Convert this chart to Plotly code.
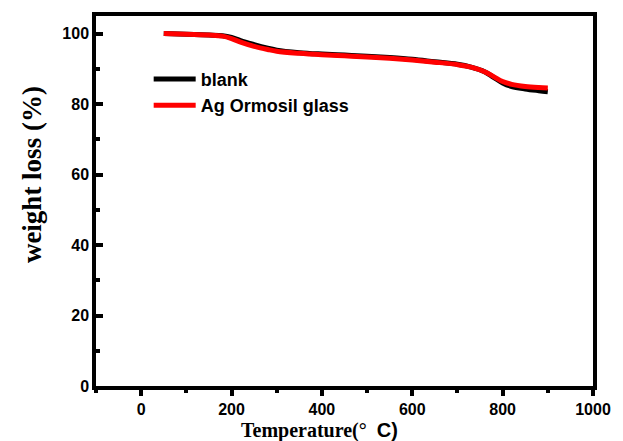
import plotly.graph_objects as go

# Thermogravimetric curves (weight % vs temperature)
temperature = [50, 100, 150, 180, 200, 220, 250, 280, 300, 350, 400, 450, 500,
               550, 600, 650, 700, 730, 760, 780, 800, 820, 850, 880, 900]
blank = [100.0, 99.8, 99.6, 99.4, 98.9, 98.0, 96.9, 95.9, 95.3, 94.6, 94.2, 93.9,
         93.6, 93.2, 92.7, 92.0, 91.3, 90.5, 89.2, 87.6, 86.0, 85.0, 84.3, 83.8, 83.5]
ag_ormosil = [100.0, 99.8, 99.6, 99.3, 98.6, 97.6, 96.4, 95.5, 95.0, 94.4, 94.0, 93.7,
              93.4, 93.0, 92.5, 91.9, 91.2, 90.5, 89.2, 87.8, 86.4, 85.6, 85.0, 84.7, 84.6]

x_ticks = [0, 200, 400, 600, 800, 1000]
y_ticks = [0, 20, 40, 60, 80, 100]

sans = "Liberation Sans, Arial, sans-serif"
serif = "Liberation Serif, Times New Roman, serif"

fig = go.Figure()
fig.add_trace(go.Scatter(x=temperature, y=blank, name="blank", mode="lines",
                         line=dict(color="black", width=5, shape="spline")))
fig.add_trace(go.Scatter(x=temperature, y=ag_ormosil, name="Ag Ormosil glass", mode="lines",
                         line=dict(color="#ff0000", width=5, shape="spline")))

axis_common = dict(
    showline=True, linecolor="black", linewidth=3.5, mirror=True,
    tickwidth=3.5, tickcolor="black",
    showgrid=False, zeroline=False,
    tickfont=dict(family=sans, size=16, color="black", weight="bold"),
)

fig.update_xaxes(
    range=[-100, 1000], tickvals=x_ticks, ticks="outside", ticklen=6,
    minor=dict(ticks="outside", ticklen=3.5, tickwidth=3.5, tickcolor="black", dtick=100, tick0=0),
    **axis_common,
)
fig.update_yaxes(
    range=[0, 105], tickvals=y_ticks, ticks="inside", ticklen=7,
    minor=dict(ticks="inside", ticklen=4, tickwidth=3.5, tickcolor="black", dtick=10, tick0=0),
    **axis_common,
)

# Axis titles
fig.add_annotation(
    text="Temperature(°  <span style='font-family:Liberation Sans'>C)</span>",
    xref="paper", yref="paper", x=0.45, y=-0.119, xanchor="center", yanchor="middle",
    showarrow=False, font=dict(family=serif, size=20, color="black", weight="bold"),
)
fig.add_annotation(
    text="weight loss (%)", textangle=-90,
    xref="paper", yref="paper", x=-0.13, y=0.571, xanchor="center", yanchor="middle",
    showarrow=False, font=dict(family=serif, size=27, color="black", weight="bold"),
)

fig.update_layout(
    width=623, height=441,
    margin=dict(l=96, r=23, t=15, b=55),
    paper_bgcolor="white", plot_bgcolor="white",
    legend=dict(x=0.106, y=0.879, xanchor="left", yanchor="top", itemwidth=42,
                bgcolor="rgba(0,0,0,0)", tracegroupgap=0,
                font=dict(family=sans, size=18, color="black", weight="bold")),
    showlegend=True,
)

fig.write_html("out.html")
